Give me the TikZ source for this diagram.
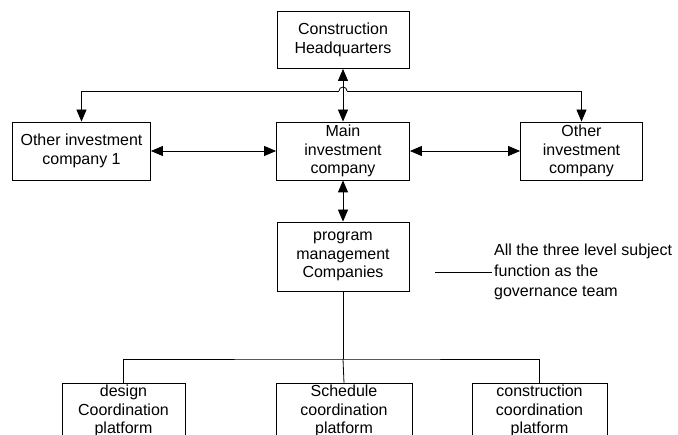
\documentclass[tikz,border=0pt]{standalone}
\usepackage{fontspec}
\setmainfont{Liberation Sans}
\usepackage{tikz}
\usetikzlibrary{arrows.meta, positioning}

\begin{document}
\begin{tikzpicture}[
    x=1pt, y=-1pt,
    box/.style={rectangle, draw, line width=0.8pt, inner sep=2pt, align=center, font=\fontsize{16}{18.5}\selectfont},
    line/.style={line width=0.8pt},
    arrow/.style={line width=0.8pt, -{Triangle[length=12pt, width=10pt]}},
    twoway/.style={line width=0.8pt, {Triangle[length=12pt, width=10pt]}-{Triangle[length=12pt, width=10pt]}}
]
    \fill[white] (0,0) rectangle (678,435);
    \useasboundingbox (0,0) rectangle (678,435);

    % Headquarters
    \node[box, minimum width=132pt, minimum height=57pt] (hq) at (343,40) {Construction\\Headquarters};

    % Investment companies
    \node[box, minimum width=138pt, minimum height=58pt] (lft) at (81.5,151) {Other investment\\company 1};
    \node[box, minimum width=133pt, minimum height=58pt] (main) at (343,151) {Main\\investment\\company};
    \node[box, minimum width=122pt, minimum height=58pt] (rgt) at (581.5,151) {Other\\investment\\company};

    % Program management
    \node[box, minimum width=132pt, minimum height=69pt] (pmc) at (343,256.5) {program\\management\\Companies};
    \node[align=left, inner sep=2pt, font=\fontsize{16}{20.5}\selectfont, anchor=west] (note) at (492,272) {All the three level subject\\function as the\\governance team};

    % Platforms
    \node[box, anchor=north, minimum width=123pt] (des) at (123.5,383) {design\\Coordination\\platform};
    \node[box, anchor=north, minimum width=136pt] (sch) at (344,383) {Schedule\\coordination\\platform};
    \node[box, anchor=north, minimum width=135pt] (con) at (539.5,383) {construction\\coordination\\platform};

    \coordinate (hop) at (343,91);
    \coordinate (split) at (343,359);
    \coordinate (noteend) at (435,272);

    % Arrows
    \draw[twoway] (hq.south) -- (hq.south |- main.north);
    \draw[arrow] ([xshift=-4pt]hop) -| (lft.north);
    \draw[arrow] ([xshift=4pt]hop) -| (rgt.north);
    \draw[line] ([xshift=-4pt]hop) arc[start angle=180, end angle=0, radius=4pt];
    \draw[twoway] (lft) -- (main);
    \draw[twoway] (main) -- (rgt);
    \draw[twoway] (main.south) -- (main.south |- pmc.north);

    % Platform lines
    \draw[line] (pmc.south) -- (split);
    \draw[line] (des.north) |- (split) -| (con.north);
    \draw[line] (split) -- (sch.north);
    \draw[line] (noteend) -- (noteend -| note.west);
\end{tikzpicture}
\end{document}
